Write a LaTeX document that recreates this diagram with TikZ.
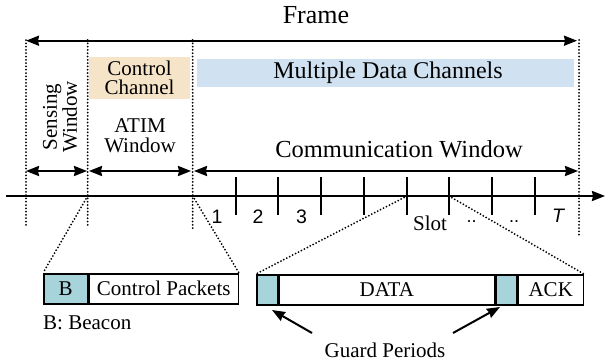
\documentclass[tikz,border=0pt]{standalone}
\usepackage{fontspec}
\setmainfont{Liberation Serif}
\newfontfamily\tnr{Liberation Serif}
\newfontfamily\sansnum{Liberation Sans}
\usetikzlibrary{arrows.meta}
\definecolor{chanTan}{HTML}{F5E4C8}
\definecolor{chanBlue}{HTML}{D0E2F1}
\definecolor{guardCyan}{HTML}{A7D3DA}
\begin{document}
\begin{tikzpicture}[x=1pt,y=-1pt,
  txt/.style={font=\tnr\fontsize{21}{20}\selectfont, inner sep=0pt},
  big/.style={font=\tnr\fontsize{24.5}{24}\selectfont, inner sep=0pt},
  num/.style={font=\sansnum\fontsize{19.5}{19}\selectfont, inner sep=0pt, anchor=base},
  dotline/.style={line width=2pt, dash pattern=on 0pt off 3.3pt, line cap=round},
  span/.style={line width=2pt, {Stealth[length=13pt,width=10pt,inset=1pt]}-{Stealth[length=13pt,width=10pt,inset=1pt]}},
  arr/.style={line width=2pt, -{Stealth[length=13pt,width=10pt,inset=1pt]}},
  tickmark/.style={line width=2.2pt},
  cell/.style={draw, line width=1.5pt, minimum height=30pt, inner sep=0pt, anchor=north west, font=\tnr\fontsize{21}{20}\selectfont},
]
\useasboundingbox (0,0) rectangle (606,362);

% title
\node[font=\tnr\fontsize{26}{26}\selectfont, inner sep=0pt, anchor=base] (frame) at (316,23) {Frame};

% channel boxes
\node[fill=chanTan, minimum width=101pt, minimum height=42pt, inner sep=0pt, align=center, font=\tnr\fontsize{21}{19}\selectfont] (ctrl) at (139.5,78) {Control\\Channel};
\node[fill=chanBlue, minimum width=377pt, minimum height=28pt, inner sep=0pt, font=\tnr\fontsize{24}{24}\selectfont] (multi) at (385.5,73) {\hspace*{5pt}Multiple Data Channels};

% window labels
\node[txt, rotate=90, align=center] (sens) at (60,117) {Sensing\\Window};
\node[txt, align=center] (atim) at (140,135.5) {ATIM\\Window};
\node[big, anchor=base] (comm) at (399,157) {Communication Window};

% vertical dotted boundaries
\coordinate (v0t) at (26,40);    \coordinate (v0b) at (26,225);
\coordinate (v1t) at (87.7,40);  \coordinate (v1b) at (87.7,227);
\coordinate (v2t) at (192.7,40); \coordinate (v2b) at (192.7,231);
\coordinate (v3t) at (579,40);   \coordinate (v3b) at (579,235);
\draw[dotline] (v0t) -- (v0b);
\draw[dotline] (v1t) -- (v1b);
\draw[dotline] (v2t) -- (v2b);
\draw[dotline] (v3t) -- (v3b);

% frame arrow
\coordinate (fa) at (26,40.7); \coordinate (fb) at (577,40.7);
\draw[span] (fa) -- (fb);

% window arrows
\coordinate (s1) at (26,171);  \coordinate (s2) at (87,171);
\coordinate (a1) at (89,171);  \coordinate (a2) at (191,171);
\coordinate (c1) at (194,171); \coordinate (c2) at (578,171);
\draw[span] (s1) -- (s2);
\draw[span] (a1) -- (a2);
\draw[span] (c1) -- (c2);

% time axis
\coordinate (ax0) at (6,196); \coordinate (ax1) at (605,196);
\draw[arr] (ax0) -- (ax1);
\foreach \x in {236,278,321,364,407,449,492,535}
  \draw[tickmark] (\x,177) -- (\x,215);

% slot labels
\node[num] (n1) at (217,223) {1};
\node[num] (n2) at (258,223) {2};
\node[num] (n3) at (301.5,223) {3};
\node[txt, anchor=base] (slot) at (430,230) {Slot};
\node[num, font=\sansnum\fontsize{18}{18}\selectfont] (d1) at (471.5,222) {..};
\node[num, font=\sansnum\fontsize{18}{18}\selectfont] (d2) at (514,222) {..};
\node[num, font=\sansnum\itshape\fontsize{19.5}{19}\selectfont] (nT) at (558,222) {T};

% ATIM window detail
\node[cell, fill=guardCyan, minimum width=44pt] (bcn) at (43,273) {B};
\node[cell, minimum width=149pt] (cp) at (bcn.north east) {Control Packets};
\node[txt, anchor=base west] (bb) at (43,329) {B: Beacon};

% slot detail
\node[cell, fill=guardCyan, minimum width=21pt] (g1) at (256,274) {};
\node[cell, minimum width=215pt] (data) at (g1.north east) {DATA};
\node[cell, fill=guardCyan, minimum width=21pt] (g2) at (data.north east) {};
\node[cell, minimum width=65pt] (ack) at (g2.north east) {ACK};

% zoom lines
\coordinate (z1) at (87.7,196);
\coordinate (z2) at (192.7,196);
\coordinate (z3) at (407,196);
\coordinate (z4) at (449,196);
\draw[dotline] (z1) -- (bcn.north west);
\draw[dotline] (z2) -- (cp.north east);
\draw[dotline] (z3) -- (g1.north west);
\draw[dotline] (z4) -- (ack.north east);

% guard periods
\node[txt, anchor=base] (gp) at (385,357) {Guard Periods};
\coordinate (gs1) at (312,333); \coordinate (ge1) at (272,310);
\coordinate (gs2) at (453,333); \coordinate (ge2) at (500,307);
\draw[arr] (gs1) -- (ge1);
\draw[arr] (gs2) -- (ge2);
\end{tikzpicture}
\end{document}
